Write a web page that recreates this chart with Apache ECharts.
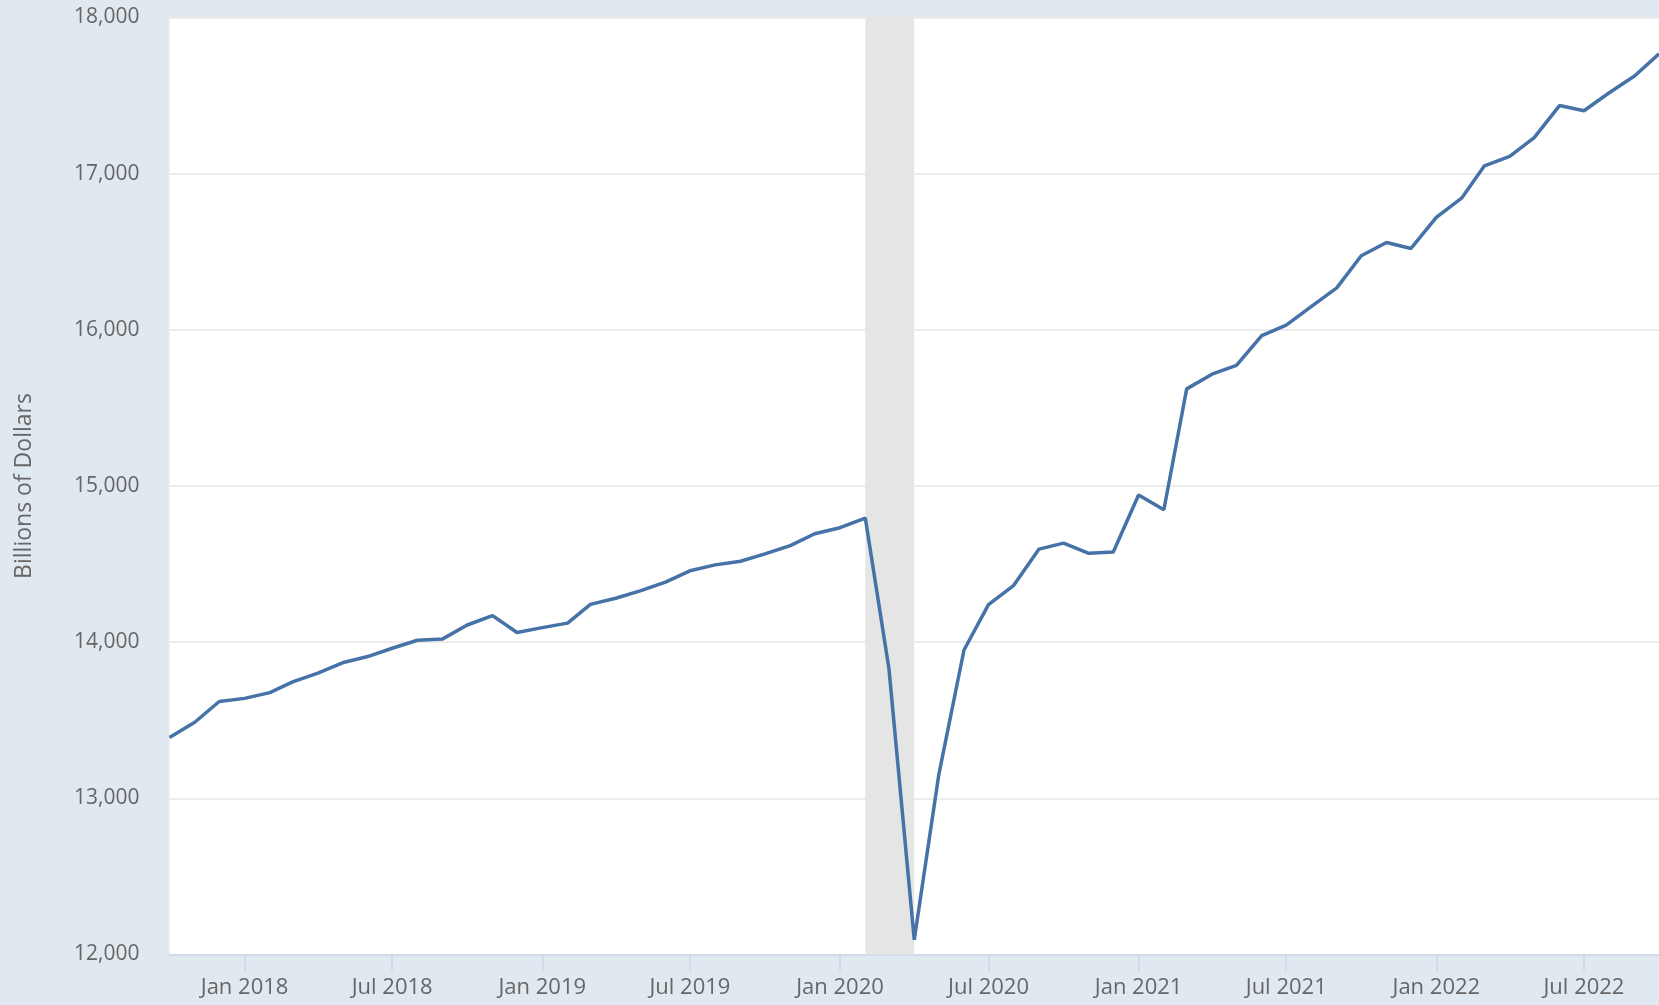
<!DOCTYPE html>
<html>
<head>
<meta charset="utf-8">
<script src="https://cdn.jsdelivr.net/npm/echarts@6/dist/echarts.min.js"></script>
<style>
html,body{margin:0;padding:0;background:#e1e9f0;}
#c{width:1659px;height:1005px;}
</style>
</head>
<body>
<div id="c"></div>
<script>
// ---- data ----
const months = [
  '2017-10','2017-11','2017-12',
  '2018-01','2018-02','2018-03','2018-04','2018-05','2018-06','2018-07','2018-08','2018-09','2018-10','2018-11','2018-12',
  '2019-01','2019-02','2019-03','2019-04','2019-05','2019-06','2019-07','2019-08','2019-09','2019-10','2019-11','2019-12',
  '2020-01','2020-02','2020-03','2020-04','2020-05','2020-06','2020-07','2020-08','2020-09','2020-10','2020-11','2020-12',
  '2021-01','2021-02','2021-03','2021-04','2021-05','2021-06','2021-07','2021-08','2021-09','2021-10','2021-11','2021-12',
  '2022-01','2022-02','2022-03','2022-04','2022-05','2022-06','2022-07','2022-08','2022-09','2022-10'
];
const values = [
  13390, 13487, 13620,
  13640, 13677, 13746, 13802, 13868, 13908, 13961, 14012, 14021, 14110, 14170, 14062,
  14093, 14122, 14242, 14281, 14328, 14385, 14457, 14495, 14518, 14565, 14618, 14694,
  14733, 14795, 13830, 12094, 13148, 13950, 14240, 14364, 14596, 14634, 14569, 14577,
  14942, 14848, 15622, 15716, 15772, 15963, 16030, 16150, 16269, 16474, 16559, 16521,
  16720, 16843, 17050, 17111, 17231, 17436, 17403, 17518, 17625, 17767
];
const tickMonths = ['2018-01','2018-07','2019-01','2019-07','2020-01','2020-07','2021-01','2021-07','2022-01','2022-07'];
const monthNames = ['Jan','Feb','Mar','Apr','May','Jun','Jul','Aug','Sep','Oct','Nov','Dec'];
const yMin = 12000, yMax = 18000, yStep = 1000;
const recession = ['2020-02','2020-04'];
const yTitle = 'Billions of Dollars';

function ts(m){ const p = m.split('-').map(Number); return Date.UTC(p[0], p[1]-1, 1); }

const seriesData = months.map((m,i) => [ts(m), values[i]]);
const tickValues = tickMonths.map(ts);

const chart = echarts.init(document.getElementById('c'), null, {renderer:'canvas'});
const FONT = '"Open Sans", "Noto Sans", sans-serif';
chart.setOption({
  animation: false,
  backgroundColor: '#e1e9f0',
  grid: {
    left: 169.5, top: 17.5, right: 0, bottom: 50.5,
    show: true, backgroundColor: '#ffffff', borderWidth: 0
  },
  xAxis: {
    type: 'value',
    min: ts(months[0]),
    max: ts(months[months.length-1]),
    splitLine: {show: false},
    axisLine: {show: true, lineStyle: {color: '#ccd6eb', width: 1.5}},
    axisTick: {show: true, length: 17, customValues: tickValues, lineStyle: {color: '#ccd6eb', width: 1.5}},
    axisLabel: {
      customValues: tickValues,
      margin: 22,
      color: '#666666',
      fontFamily: FONT,
      fontSize: 22,
      formatter: function(v){ const d = new Date(v); return monthNames[d.getUTCMonth()] + ' ' + d.getUTCFullYear(); }
    }
  },
  yAxis: {
    type: 'value',
    min: yMin, max: yMax, interval: yStep,
    name: yTitle,
    nameLocation: 'middle',
    nameGap: 134,
    nameRotate: 90,
    nameTextStyle: {color: '#666666', fontFamily: FONT, fontSize: 23},
    axisLine: {show: false},
    axisTick: {show: false},
    splitLine: {show: true, lineStyle: {color: '#e6e6e6', width: 1.5}},
    axisLabel: {
      margin: 30,
      color: '#666666',
      fontFamily: FONT,
      fontSize: 21,
      formatter: function(v){ return v.toLocaleString('en-US'); }
    }
  },
  series: [{
    type: 'line',
    data: seriesData,
    showSymbol: false,
    symbol: 'none',
    lineStyle: {color: '#4572a7', width: 3.5},
    markArea: {
      silent: true,
      itemStyle: {color: '#e5e5e5', opacity: 1},
      data: [[{xAxis: ts(recession[0])}, {xAxis: ts(recession[1])}]]
    }
  }]
});
</script>
</body>
</html>
